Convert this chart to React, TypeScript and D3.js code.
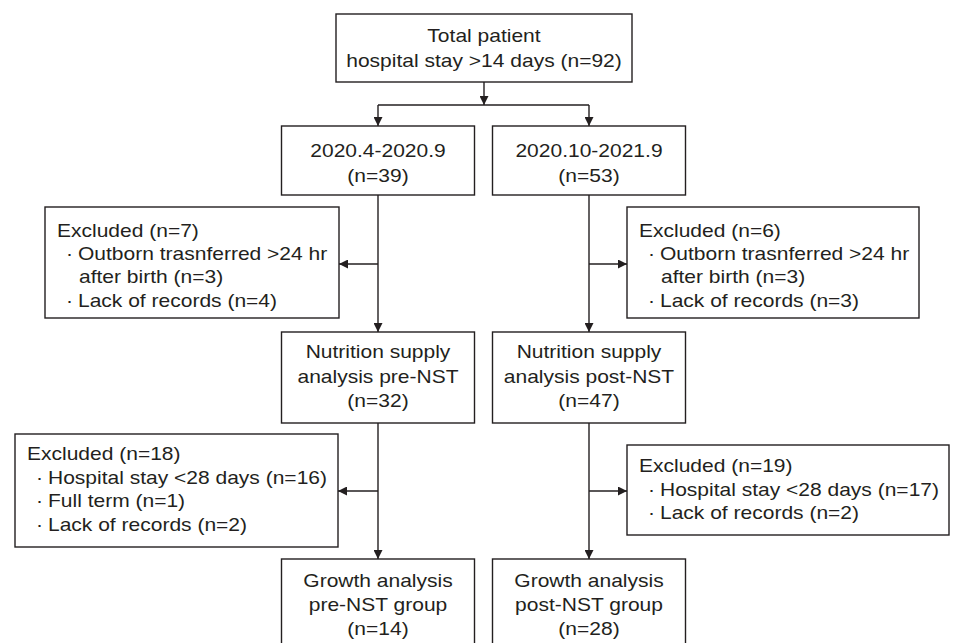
import React from "react";
import * as d3 from "d3";

// ---- Data ----
const topLines = ["Total patient", "hospital stay >14 days (n=92)"];
const periodLabels = ["2020.4-2020.9", "2020.10-2021.9"];
const periodN = [39, 53];
const nutritionLabels = [
  ["Nutrition supply", "analysis pre-NST"],
  ["Nutrition supply", "analysis post-NST"],
];
const nutritionN = [32, 47];
const growthLabels = [
  ["Growth analysis", "pre-NST group"],
  ["Growth analysis", "post-NST group"],
];
const growthN = [14, 28];
const excluded1N = [7, 6];
const excluded1Items = [
  [["Outborn trasnferred >24 hr", "after birth (n=3)"], ["Lack of records (n=4)"]],
  [["Outborn trasnferred >24 hr", "after birth (n=3)"], ["Lack of records (n=3)"]],
];
const excluded2N = [18, 19];
const excluded2Items = [
  [["Hospital stay <28 days (n=16)"], ["Full term (n=1)"], ["Lack of records (n=2)"]],
  [["Hospital stay <28 days (n=17)"], ["Lack of records (n=2)"]],
];

// ---- Layout ----
const W = 953;
const H = 643;
const INK = "#231f20";
const FONT = "'Liberation Sans', Arial, Helvetica, sans-serif";
const FS = 18.6;
const SX = 1.13;
const SW = 1.4;

const colX = [378, 589];
const boxW = 193;
const topBox = { x0: 336, x1: 632, y0: 14, y1: 82, base: [42, 67] };
const lvl2 = { y0: 126, y1: 195, base: [157, 182] };
const lvl3 = { y0: 332, y1: 423, base: [358, 383, 407] };
const lvl4 = { y0: 559, y1: 650, base: [587, 611, 635] };
const excl1Boxes = [
  { x0: 45, x1: 339, y0: 207, y1: 318, base: [237, 260, 283, 307] },
  { x0: 627, x1: 919, y0: 207, y1: 318, base: [237, 260, 283, 307] },
];
const excl1ArrowY = 264;
const excl2Boxes = [
  { x0: 15, x1: 338, y0: 434, y1: 547, base: [460, 484, 507, 531] },
  { x0: 627, x1: 949, y0: 445, y1: 535, base: [472, 496, 519] },
];
const excl2ArrowY = 491;

function T({ x, y, anchor = "middle", children }: any) {
  return (
    <text
      transform={`translate(${x},${y}) scale(${SX},1)`}
      textAnchor={anchor}
      fontFamily={FONT}
      fontSize={FS}
      fill={INK}
    >
      {children}
    </text>
  );
}

function Box({ x0, x1, y0, y1 }: any) {
  return (
    <rect
      x={x0}
      y={y0}
      width={x1 - x0}
      height={y1 - y0}
      fill="#fff"
      stroke={INK}
      strokeWidth={SW}
    />
  );
}

function ExclBox({ box, n, items }: any) {
  const rows: any[] = [];
  rows.push(
    <T key="h" x={box.x0 + 12} y={box.base[0]} anchor="start">
      {`Excluded (n=${n})`}
    </T>
  );
  let li = 1;
  items.forEach((item: string[], i: number) => {
    item.forEach((line, j) => {
      const y = box.base[li];
      if (j === 0) {
        rows.push(
          <T key={`b${i}`} x={box.x0 + 21} y={y} anchor="start">
            {"·"}
          </T>
        );
      }
      rows.push(
        <T key={`l${i}-${j}`} x={box.x0 + (j === 0 ? 33 : 34)} y={y} anchor="start">
          {line}
        </T>
      );
      li++;
    });
  });
  return (
    <g>
      <Box {...box} />
      {rows}
    </g>
  );
}

export default function App() {
  const line = d3.line<[number, number]>();
  const arrows: [number, number][][] = [];
  const topCx = (topBox.x0 + topBox.x1) / 2;
  const splitY = 105;
  arrows.push([[topCx, topBox.y1], [topCx, splitY]]);
  const plain: [number, number][][] = [[[colX[0], splitY], [colX[1], splitY]]];
  colX.forEach((cx) => arrows.push([[cx, splitY], [cx, lvl2.y0]]));
  colX.forEach((cx) => {
    arrows.push([[cx, lvl2.y1], [cx, lvl3.y0]]);
    arrows.push([[cx, lvl3.y1], [cx, lvl4.y0]]);
  });
  arrows.push([[colX[0], excl1ArrowY], [excl1Boxes[0].x1, excl1ArrowY]]);
  arrows.push([[colX[1], excl1ArrowY], [excl1Boxes[1].x0, excl1ArrowY]]);
  arrows.push([[colX[0], excl2ArrowY], [excl2Boxes[0].x1, excl2ArrowY]]);
  arrows.push([[colX[1], excl2ArrowY], [excl2Boxes[1].x0, excl2ArrowY]]);

  return (
    <svg
      width={W}
      height={H}
      viewBox={`0 0 ${W} ${H}`}
      style={{ position: "absolute", left: 0, top: 0, background: "#fff" }}
    >
      <defs>
        <marker
          id="ah"
          viewBox="0 0 10 10"
          refX={10}
          refY={5}
          markerWidth={10}
          markerHeight={9}
          markerUnits="userSpaceOnUse"
          orient="auto"
        >
          <path d="M0,0 L10,5 L0,10 z" fill={INK} />
        </marker>
      </defs>
      <rect x={0} y={0} width={W} height={H} fill="#fff" />

      {plain.map((p, i) => (
        <path key={`p${i}`} d={line(p) || ""} stroke={INK} strokeWidth={SW} fill="none" />
      ))}
      {arrows.map((p, i) => (
        <path
          key={`a${i}`}
          d={line(p) || ""}
          stroke={INK}
          strokeWidth={SW}
          fill="none"
          markerEnd="url(#ah)"
        />
      ))}

      <Box {...topBox} />
      {topLines.map((t, i) => (
        <T key={`t${i}`} x={topCx} y={topBox.base[i]}>
          {t}
        </T>
      ))}

      {periodLabels.map((lab, i) => (
        <g key={`l2${i}`}>
          <Box x0={colX[i] - boxW / 2} x1={colX[i] + boxW / 2} y0={lvl2.y0} y1={lvl2.y1} />
          <T x={colX[i]} y={lvl2.base[0]}>{lab}</T>
          <T x={colX[i]} y={lvl2.base[1]}>{`(n=${periodN[i]})`}</T>
        </g>
      ))}

      {excl1Boxes.map((b, i) => (
        <ExclBox key={`e1${i}`} box={b} n={excluded1N[i]} items={excluded1Items[i]} />
      ))}

      {nutritionLabels.map((labs, i) => (
        <g key={`l3${i}`}>
          <Box x0={colX[i] - boxW / 2} x1={colX[i] + boxW / 2} y0={lvl3.y0} y1={lvl3.y1} />
          {labs.map((t, j) => (
            <T key={j} x={colX[i]} y={lvl3.base[j]}>{t}</T>
          ))}
          <T x={colX[i]} y={lvl3.base[2]}>{`(n=${nutritionN[i]})`}</T>
        </g>
      ))}

      {excl2Boxes.map((b, i) => (
        <ExclBox key={`e2${i}`} box={b} n={excluded2N[i]} items={excluded2Items[i]} />
      ))}

      {growthLabels.map((labs, i) => (
        <g key={`l4${i}`}>
          <Box x0={colX[i] - boxW / 2} x1={colX[i] + boxW / 2} y0={lvl4.y0} y1={lvl4.y1} />
          {labs.map((t, j) => (
            <T key={j} x={colX[i]} y={lvl4.base[j]}>{t}</T>
          ))}
          <T x={colX[i]} y={lvl4.base[2]}>{`(n=${growthN[i]})`}</T>
        </g>
      ))}
    </svg>
  );
}
